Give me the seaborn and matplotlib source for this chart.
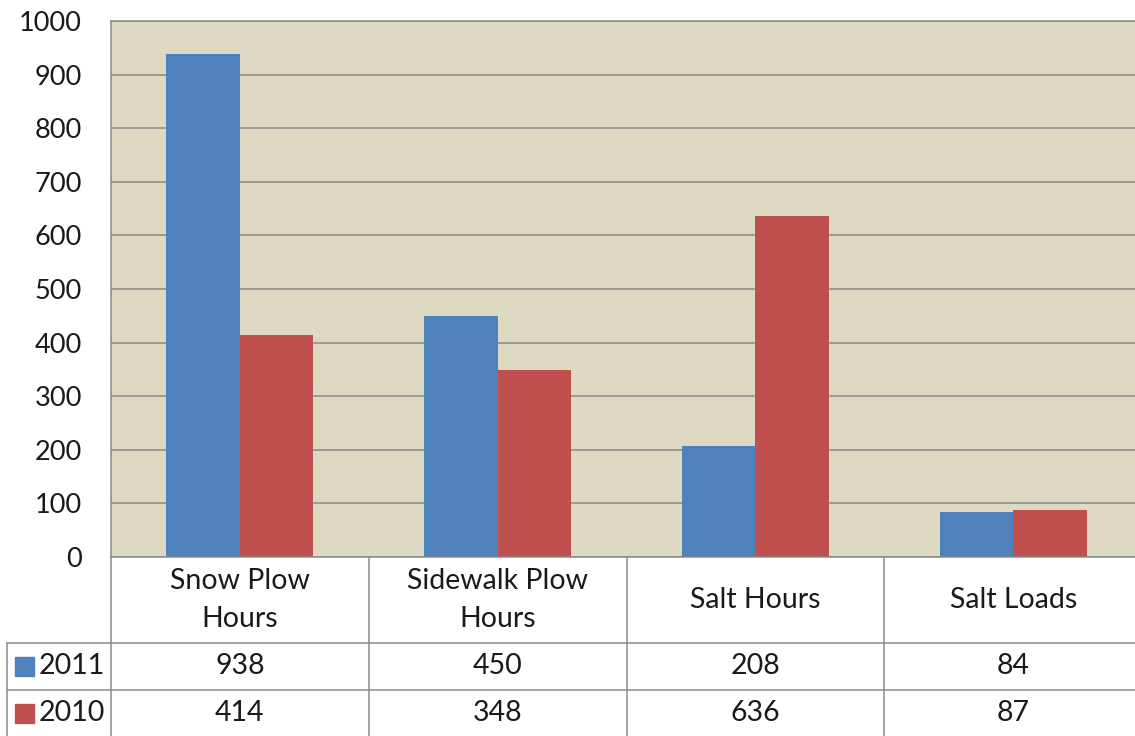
import numpy as np
import pandas as pd
import matplotlib
matplotlib.use("Agg")
import matplotlib.pyplot as plt
import matplotlib.transforms as mtrans
from matplotlib.patches import Rectangle
import seaborn as sns

# dados
categorias = ["Snow Plow\nHours", "Sidewalk Plow\nHours", "Salt Hours", "Salt Loads"]
anos = ["2011", "2010"]
valores_2011 = [938, 450, 208, 84]
valores_2010 = [414, 348, 636, 87]
cores = ["#4F81BD", "#C0504D"]

df = pd.DataFrame({
    "categoria": categorias * 2,
    "ano": [anos[0]] * 4 + [anos[1]] * 4,
    "valor": valores_2011 + valores_2010,
})

sns.set_style("white")
plt.rcParams["font.family"] = ["Lato", "DejaVu Sans"]

W, H = 1135, 736
fig = plt.figure(figsize=(W / 100, H / 100), dpi=100)
fig.patch.set_facecolor("white")

def fy(px):
    return 1 - px / H

linha = "#8A8A8A"
texto = "#1a1a1a"
fs = 20.5

ax = fig.add_axes([111 / W, fy(557), 1031 / W, 536 / H])
sns.barplot(data=df, x="categoria", y="valor", hue="ano", hue_order=anos,
            palette=cores, width=0.57, gap=0, saturation=1, legend=False,
            linewidth=0, ax=ax)
ax.set_facecolor("#DDD9C3")
ax.set_xlim(-0.5, 3.5)
ax.set_ylim(0, 1000)
ax.set_yticks(range(0, 1001, 100))
ax.set_xticks([])
ax.set_xlabel("")
ax.set_ylabel("")
ax.grid(axis="y", color=linha, linewidth=1.1)
ax.set_axisbelow(True)
ax.tick_params(axis="y", labelsize=19.5, labelcolor=texto, length=0, pad=21)
for s in ax.spines.values():
    s.set_color(linha)
    s.set_linewidth(1.1)

# tabela de dados
trans = mtrans.blended_transform_factory(ax.transData, fig.transFigure)
y_topo, y_l1, y_l2, y_fim = fy(557), fy(643), fy(690), 0.0
for xv in [-0.5, 0.5, 1.5, 2.5]:
    ax.plot([xv, xv], [y_topo, y_fim], color=linha, lw=1.1, transform=trans, clip_on=False)
for yv in [y_l1, y_l2]:
    fig.add_artist(plt.Line2D([7 / W, 1], [yv, yv], color=linha, lw=1.1))
fig.add_artist(plt.Line2D([7 / W, 7 / W], [y_l1, y_fim], color=linha, lw=1.1))

for i, cat in enumerate(categorias):
    ax.text(i, (y_topo + y_l1) / 2, cat, transform=trans, ha="center", va="center",
            fontsize=fs, color=texto, linespacing=1.55)
    ax.text(i, (y_l1 + y_l2) / 2, str(valores_2011[i]), transform=trans,
            ha="center", va="center", fontsize=fs, color=texto)
    ax.text(i, (y_l2 + y_fim) / 2, str(valores_2010[i]), transform=trans,
            ha="center", va="center", fontsize=fs, color=texto)

# chaves da legenda
for ano, cor, (a, b) in zip(anos, cores, [(y_l1, y_l2), (y_l2, y_fim)]):
    meio = (a + b) / 2
    fig.add_artist(Rectangle((15 / W, meio - 9.5 / H), 19 / W, 19 / H,
                             transform=fig.transFigure, color=cor))
    fig.text(39 / W, meio, ano, ha="left", va="center", fontsize=fs, color=texto)

plt.savefig("out.png", dpi=100)
